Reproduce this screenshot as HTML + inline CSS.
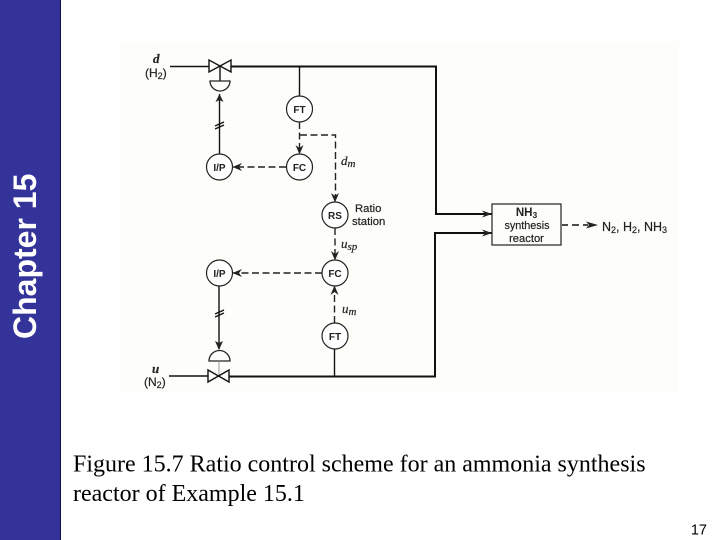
<!DOCTYPE html>
<html><head><meta charset="utf-8"><style>
html,body{margin:0;padding:0;background:#fff;width:720px;height:540px;overflow:hidden}
svg{display:block}
.s{font-family:"Liberation Sans",sans-serif;fill:#222;stroke:#222;stroke-width:.2}
.i{font-family:"Liberation Serif",serif;font-style:italic;fill:#222;stroke:#222;stroke-width:.2}
.n{font-family:"Liberation Sans",sans-serif;font-weight:bold;font-size:10px;fill:#222;text-anchor:middle}
.c{fill:#fff;stroke:#222;stroke-width:1.2}
.l{stroke:#111;fill:none;stroke-width:1.4}
.t{stroke:#111;fill:none;stroke-width:2}
.d{stroke:#222;fill:none;stroke-width:1.4;stroke-dasharray:7 3.500}
.a{fill:#222;stroke:none}
</style></head><body>
<svg width="720" height="540" viewBox="0 0 720 540" xmlns="http://www.w3.org/2000/svg">
<rect x="0" y="0" width="60" height="540" fill="#333399"/>
<rect x="60" y="0" width="1" height="540" fill="#111144"/>
<text transform="translate(36,339) rotate(-90)" font-family="Liberation Sans,sans-serif" font-weight="bold" font-size="32" fill="#fff">Chapter 15</text>
<rect x="120" y="42" width="558" height="350" fill="#fdfdfa"/>

<!-- top line -->
<path class="l" d="M170 66.500H209"/>
<path class="t" d="M231 66.500H436V214H492"/>
<path class="l" d="M299.500 66.500V96"/>
<!-- bottom line -->
<path class="l" d="M169 376H208"/>
<path class="t" d="M229 376.500H435V233H492"/>
<path class="l" d="M334.500 376V349"/>

<!-- top valve -->
<path class="l" d="M209 60V72L231 60V72Z" fill="#fff"/>
<path class="l" d="M220 66V81"/>
<path d="M210 81H230A10 10 0 0 1 210 81Z" fill="#fdfdfa" stroke="#222" stroke-width="1.300"/>
<!-- top actuator signal -->
<path class="l" d="M219.500 154V94"/>
<path class="a" d="M219.500 94L215.500 102L219.500 100L223.500 102Z"/>
<path class="l" d="M215 126L224 122M215 129L224 125"/>
<!-- FT to FC, RS -->
<path class="d" d="M299.500 122V155"/>
<path class="d" d="M300 135H335.500V198"/>
<path class="a" d="M299.500 154.500L295.500 145L299.500 148L303.500 145Z"/>
<path class="a" d="M335 202.500L331 193L335 196L339 193Z"/>
<!-- FC to I/P -->
<path class="d" d="M286 167H233"/>
<path class="a" d="M232.500 167L242 163L239 167L242 171Z"/>

<!-- RS to FC -->
<path class="d" d="M335 228V259"/>
<path class="a" d="M335 260.500L331 251L335 254L339 251Z"/>
<!-- FC to I/P lower -->
<path class="d" d="M322 273H233"/>
<path class="a" d="M232.500 273L242 269L239 273L242 277Z"/>
<!-- FT to FC lower -->
<path class="d" d="M334.500 323V287"/>
<path class="a" d="M334.500 285.500L330.500 295L334.500 292L338.500 295Z"/>
<!-- lower actuator -->
<path class="l" d="M219 286V349"/>
<path class="a" d="M219 350L215 341L219 343L223 341Z"/>
<path class="l" d="M215 314L224 310M215 317L224 313"/>
<path d="M209 361A10.500 10.500 0 0 1 230 361Z" fill="#fdfdfa" stroke="#222" stroke-width="1.300"/>
<path stroke="#999" stroke-width="1" d="M219 361V376"/>
<path class="l" d="M208 370V382L229 370V382Z" fill="#fff"/>

<!-- instruments -->
<circle class="c" cx="299.500" cy="109" r="13"/><text class="n" x="299.500" y="113">FT</text>
<circle class="c" cx="299.500" cy="167" r="13"/><text class="n" x="299.500" y="171">FC</text>
<circle class="c" cx="219.500" cy="167" r="13"/><text class="n" x="219.500" y="171">I/P</text>
<circle class="c" cx="335" cy="215" r="13"/><text class="n" x="335" y="219">RS</text>
<circle class="c" cx="335" cy="273" r="13"/><text class="n" x="335" y="277">FC</text>
<circle class="c" cx="219.500" cy="273" r="13"/><text class="n" x="219.500" y="277">I/P</text>
<circle class="c" cx="335" cy="336" r="13"/><text class="n" x="335" y="340">FT</text>

<!-- reactor -->
<path class="a" d="M492 214L482 210.500L485 214L482 217.500Z"/>
<path class="a" d="M492 233L482 229.500L485 233L482 236.500Z"/>
<rect x="492" y="204" width="69" height="41" fill="#fdfdfa" stroke="#222" stroke-width="1.200"/>
<text class="n" x="526.500" y="216" style="font-size:11.500px">NH<tspan font-size="8.500" dy="2">3</tspan></text>
<text class="s" x="527" y="229" font-size="10.800" text-anchor="middle">synthesis</text>
<text class="s" x="526.500" y="242" font-size="11.200" text-anchor="middle">reactor</text>
<path class="t" d="M562 225H568M572 225H579M583 225H588" style="stroke-width:1.600"/>
<path class="a" d="M598 225L586 221.500L589 225L586 228.500Z"/>
<text class="s" x="602" y="231" font-size="12.500">N<tspan font-size="9" dy="2">2</tspan><tspan dy="-2">, H</tspan><tspan font-size="9" dy="2">2</tspan><tspan dy="-2">, NH</tspan><tspan font-size="9" dy="2">3</tspan></text>

<!-- labels -->
<text class="i" x="153" y="63" font-size="13" font-weight="bold">d</text>
<text class="s" x="145" y="77" font-size="12">(H<tspan font-size="9" dy="2">2</tspan><tspan dy="-2">)</tspan></text>
<text class="i" x="152" y="373" font-size="13" font-weight="bold">u</text>
<text class="s" x="144" y="386" font-size="12">(N<tspan font-size="9" dy="2">2</tspan><tspan dy="-2">)</tspan></text>
<text class="i" x="341" y="165" font-size="13">d<tspan font-size="11" dy="2">m</tspan></text>
<text class="i" x="341" y="248" font-size="13">u<tspan font-size="11" dy="2">sp</tspan></text>
<text class="i" x="342" y="313" font-size="13">u<tspan font-size="11" dy="2">m</tspan></text>
<text class="s" x="355" y="212" font-size="11.300">Ratio</text>
<text class="s" x="352" y="225" font-size="11.300">station</text>

<!-- caption -->
<text x="73" y="471.500" font-family="Liberation Serif,serif" font-size="24" fill="#000">Figure 15.7 Ratio control scheme for an ammonia synthesis</text>
<text x="73" y="501" font-family="Liberation Serif,serif" font-size="24" fill="#000">reactor of Example 15.1</text>
<text x="707" y="534.500" font-family="Liberation Sans,sans-serif" font-size="14.500" fill="#000" text-anchor="end">17</text>
</svg>
</body></html>
